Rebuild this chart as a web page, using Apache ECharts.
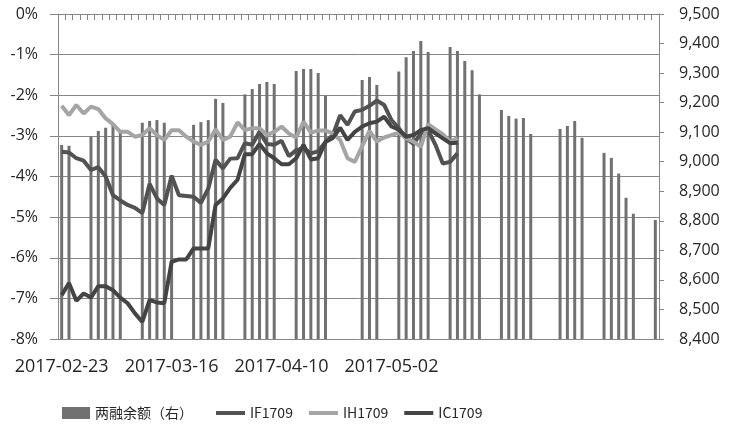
<!DOCTYPE html>
<html><head><meta charset="utf-8">
<script src="https://cdn.jsdelivr.net/npm/echarts@6/dist/echarts.min.js"></script>
<style>html,body{margin:0;padding:0;background:#fff}#c{width:731px;height:427px}</style>
</head><body><div id="c"></div>
<script>
// category labels (trading days for line series; trailing slots blank)
const categories = ['2017-02-23','2017-02-24','2017-02-27','2017-02-28','2017-03-01','2017-03-02','2017-03-03','2017-03-06','2017-03-07','2017-03-08','2017-03-09','2017-03-10','2017-03-13','2017-03-14','2017-03-15','2017-03-16','2017-03-17','2017-03-20','2017-03-21','2017-03-22','2017-03-23','2017-03-24','2017-03-27','2017-03-28','2017-03-29','2017-03-30','2017-03-31','2017-04-05','2017-04-06','2017-04-07','2017-04-10','2017-04-11','2017-04-12','2017-04-13','2017-04-14','2017-04-17','2017-04-18','2017-04-19','2017-04-20','2017-04-21','2017-04-24','2017-04-25','2017-04-26','2017-04-27','2017-04-28','2017-05-02','2017-05-03','2017-05-04','2017-05-05','2017-05-08','2017-05-09','2017-05-10','2017-05-11','2017-05-12','2017-05-15',
'','','','','','','','','','','','','','','','','','','','','','','','','','',''];
const labelEvery = 15;

// 两融余额（右）, calendar-day slots, null = no value
const marginBalance = [9057,9054,null,null,9085,9104,9115,9124,9100,null,
  null,9132,9138,9141,9132,8955,null,null,9125,9134,
  9141,9213,9199,null,null,9228,9246,9263,9270,9263,
  null,null,9307,9314,9314,9300,9224,null,null,null,
  null,9277,9287,9260,null,null,9305,9354,9375,9409,
  9371,null,null,9388,9375,9341,9310,9228,null,null,
  9175,9155,9146,9148,9094,null,null,null,9111,9121,
  9138,9081,null,null,9030,9013,8960,8878,8824,null,
  null,8803];

const IF1709 = [-3.39,-3.41,-3.55,-3.61,-3.84,-3.77,-4.00,-4.46,-4.59,-4.70,
  -4.77,-4.90,-4.18,-4.54,-4.70,-3.98,-4.46,-4.48,-4.50,-4.65,
  -4.30,-3.59,-3.80,-3.56,-3.55,-3.18,-3.22,-2.90,-3.20,-3.22,
  -3.12,-3.50,-3.35,-3.30,-3.43,-3.38,-3.15,-2.98,-2.49,-2.73,
  -2.40,-2.36,-2.26,-2.13,-2.24,-2.61,-2.81,-3.06,-3.20,-2.94,
  -2.86,-3.22,-3.68,-3.64,-3.43];

const IH1709 = [-2.26,-2.49,-2.24,-2.45,-2.28,-2.34,-2.57,-2.71,-2.90,-2.90,
  -3.02,-2.98,-2.81,-2.98,-3.10,-2.86,-2.86,-3.02,-3.14,-3.22,
  -3.14,-2.84,-3.10,-3.02,-2.67,-2.86,-2.81,-2.81,-2.98,-2.90,
  -2.77,-2.94,-3.04,-2.65,-2.92,-2.87,-2.87,-2.94,-3.10,-3.55,
  -3.64,-3.25,-2.88,-3.14,-3.04,-2.98,-2.92,-3.06,-3.14,-3.27,
  -2.71,-2.84,-2.96,-3.15,-3.05];

const IC1709 = [-6.92,-6.62,-7.06,-6.88,-6.98,-6.70,-6.70,-6.80,-6.98,-7.12,
  -7.37,-7.58,-7.04,-7.10,-7.12,-6.10,-6.04,-6.04,-5.77,-5.77,
  -5.77,-4.70,-4.54,-4.28,-4.08,-3.45,-3.45,-3.20,-3.43,-3.55,
  -3.70,-3.70,-3.55,-3.22,-3.58,-3.55,-3.15,-3.05,-2.80,-3.10,
  -2.90,-2.77,-2.69,-2.65,-2.53,-2.77,-2.85,-3.02,-2.98,-2.86,
  -2.81,-2.94,-3.06,-3.18,-3.17];

const leftTicks = {min: -8, max: 0, step: 1};
const rightTicks = {min: 8400, max: 9500, step: 100};

const chart = echarts.init(document.getElementById('c'), null, {renderer: 'canvas'});
const axisGray = '#868686';
const txt = '#262626';
const addCommas = v => String(v).replace(/\B(?=(\d{3})+(?!\d))/g, ',');

chart.setOption({
  animation: false,
  backgroundColor: '#fff',
  grid: {left: 58, right: 72, top: 14, bottom: 88, containLabel: false, outerBoundsMode: 'none'},
  legend: [
    {data: ['两融余额（右）'], left: 57, top: 401, itemWidth: 28, itemHeight: 12, icon: 'rect',
     textStyle: {fontFamily: 'Noto Sans CJK SC', fontSize: 14, color: txt}},
    {data: ['IF1709', 'IH1709', 'IC1709'], left: 211, top: 401, itemWidth: 29, itemHeight: 4, icon: 'rect', itemGap: 16,
     textStyle: {fontFamily: 'Noto Sans CJK SC', fontSize: 14, color: txt}}
  ],
  xAxis: {
    type: 'category', data: categories, boundaryGap: true,
    axisLine: {lineStyle: {color: axisGray, width: 1}},
    axisTick: {show: true, interval: 0, length: 6, inside: false, lineStyle: {color: axisGray}},
    axisLabel: {interval: (i, v) => v !== '' && i % labelEvery === 0, margin: 19,
      fontFamily: 'Open Sans', fontSize: 18, color: txt},
    splitLine: {show: false}
  },
  yAxis: [
    {type: 'value', min: leftTicks.min, max: leftTicks.max, interval: leftTicks.step, position: 'left',
     axisLine: {show: true, lineStyle: {color: axisGray}},
     axisTick: {show: true, length: 8, lineStyle: {color: axisGray}},
     axisLabel: {formatter: '{value}%', margin: 20, fontFamily: 'Open Sans', fontSize: 16, color: txt},
     splitLine: {show: true, lineStyle: {color: axisGray, width: 1}}},
    {type: 'value', min: rightTicks.min, max: rightTicks.max, interval: rightTicks.step, position: 'right',
     axisLine: {show: true, lineStyle: {color: axisGray}},
     axisTick: {show: true, length: 5, lineStyle: {color: axisGray}},
     axisLabel: {formatter: v => addCommas(v), margin: 20, fontFamily: 'Open Sans', fontSize: 16, color: txt},
     splitLine: {show: false}}
  ],
  series: [
    {name: '两融余额（右）', type: 'bar', yAxisIndex: 1, data: marginBalance, barWidth: 3,
     itemStyle: {color: '#717171'}, z: 1},
    {name: 'IF1709', type: 'line', yAxisIndex: 0, data: IF1709, showSymbol: false, symbol: 'none',
     lineStyle: {color: '#525252', width: 4}, itemStyle: {color: '#525252'}, z: 3},
    {name: 'IH1709', type: 'line', yAxisIndex: 0, data: IH1709, showSymbol: false, symbol: 'none',
     lineStyle: {color: '#a5a5a5', width: 4}, itemStyle: {color: '#a5a5a5'}, z: 3},
    {name: 'IC1709', type: 'line', yAxisIndex: 0, data: IC1709, showSymbol: false, symbol: 'none',
     lineStyle: {color: '#444444', width: 4}, itemStyle: {color: '#444444'}, z: 3}
  ]
});
</script></body></html>
